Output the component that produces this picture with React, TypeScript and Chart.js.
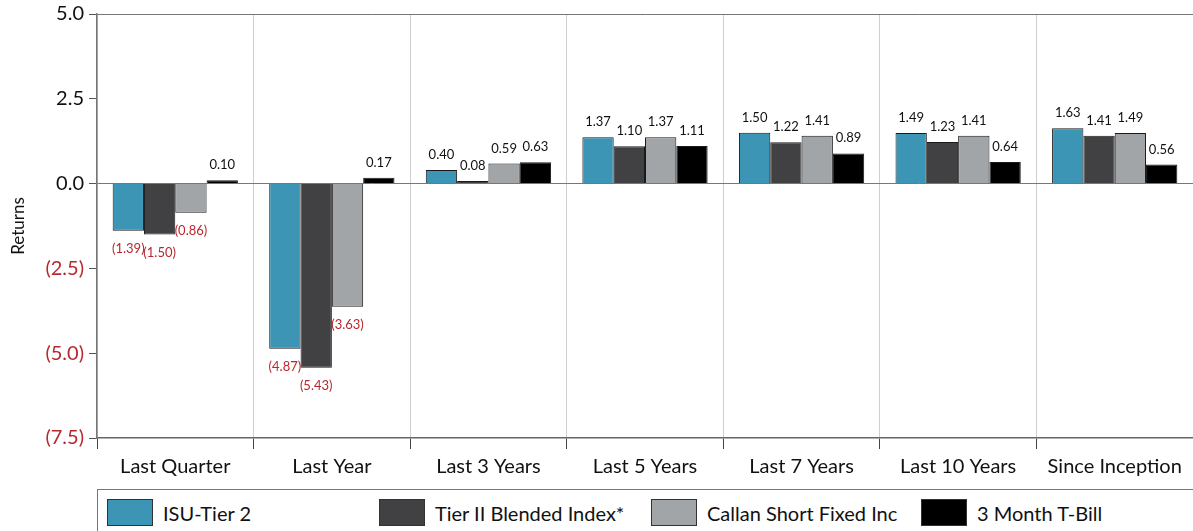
import React, { useEffect, useRef } from "react";
import { Chart, registerables } from "chart.js";

Chart.register(...registerables);

const categories = ["Last Quarter", "Last Year", "Last 3 Years", "Last 5 Years", "Last 7 Years", "Last 10 Years", "Since Inception"];
const isuTier2 = [-1.39, -4.87, 0.40, 1.37, 1.50, 1.49, 1.63];
const tierIIBlended = [-1.50, -5.43, 0.08, 1.10, 1.22, 1.23, 1.41];
const callanShortFixed = [-0.86, -3.63, 0.59, 1.37, 1.41, 1.41, 1.49];
const tBill3Month = [0.10, 0.17, 0.63, 1.11, 0.89, 0.64, 0.56];
const seriesNames = ["ISU-Tier 2", "Tier II Blended Index*", "Callan Short Fixed Inc", "3 Month T-Bill"];
const seriesColors = ["#3d95b6", "#414042", "#a2a5a8", "#000000"];
const yTicks = [-7.5, -5.0, -2.5, 0.0, 2.5, 5.0];

const FONT = "Lato, 'Open Sans', sans-serif";
const RED = "#b8282e";

const fmt = (v: number) => (v < 0 ? `(${Math.abs(v).toFixed(2)})` : v.toFixed(2));
const fmtTick = (v: number) => (v < 0 ? `(${Math.abs(v).toFixed(1)})` : v.toFixed(1));

const labelPlugin = {
  id: "barLabels",
  afterDatasetsDraw(chart: any) {
    const ctx = chart.ctx;
    ctx.save();
    ctx.font = `13px ${FONT}`;
    ctx.textAlign = "center";
    chart.data.datasets.forEach((ds: any, i: number) => {
      const meta = chart.getDatasetMeta(i);
      meta.data.forEach((bar: any, j: number) => {
        const v = ds.data[j] as number;
        if (v >= 0) {
          ctx.fillStyle = "#111";
          ctx.textBaseline = "alphabetic";
          ctx.fillText(fmt(v), bar.x, bar.y - 11);
        } else {
          ctx.fillStyle = RED;
          ctx.textBaseline = "top";
          ctx.fillText(fmt(v), bar.x, bar.y + 12);
        }
      });
    });
    ctx.restore();
  },
};

export default function App() {
  const ref = useRef<HTMLCanvasElement | null>(null);
  useEffect(() => {
    if (!ref.current) return;
    const data = [isuTier2, tierIIBlended, callanShortFixed, tBill3Month];
    const chart = new Chart(ref.current, {
      type: "bar",
      data: {
        labels: categories,
        datasets: data.map((d, i) => ({
          label: seriesNames[i],
          data: d,
          backgroundColor: seriesColors[i],
          borderColor: "#1a1a1a",
          borderWidth: 1,
          categoryPercentage: 0.8,
          barPercentage: 1.0,
        })),
      },
      options: {
        animation: false,
        responsive: false,
        maintainAspectRatio: false,
        layout: { padding: { top: 14, right: 0, left: 0, bottom: 0 } },
        plugins: { legend: { display: false }, tooltip: { enabled: false } },
        scales: {
          x: {
            afterFit: (s: any) => { s.height = 49; s.paddingLeft = 0; s.paddingRight = 0; },
            grid: {
              offset: true,
              color: "#cfcfcf",
              tickColor: "#444",
              tickLength: 11,
              lineWidth: 1,
            },
            border: { color: "#666", width: 1.5 },
            ticks: { color: "#111", font: { family: FONT, size: 20 }, padding: 6 },
          },
          y: {
            min: -7.5,
            max: 5,
            afterFit: (s: any) => { s.width = 97; s.paddingTop = 0; s.paddingBottom = 0; },
            afterBuildTicks: (s: any) => { s.ticks = yTicks.map((v) => ({ value: v })); },
            grid: {
              drawOnChartArea: true,
              color: (c: any) => (c.tick && (c.tick.value === 0 || c.tick.value === 5) ? "#777" : "rgba(0,0,0,0)"),
              tickColor: "#555",
              tickLength: 8,
              lineWidth: 1,
            },
            border: { color: "#777", width: 1.5 },
            ticks: {
              font: { family: FONT, size: 20 },
              color: (c: any) => (c.tick && c.tick.value < 0 ? RED : "#111"),
              padding: 5,
              callback: (v: any) => fmtTick(Number(v)),
            },
            title: { display: true, text: "Returns", font: { family: FONT, size: 17 }, color: "#111", padding: { top: 8, bottom: 0 } },
          },
        },
      },
      plugins: [labelPlugin],
    });
    return () => chart.destroy();
  }, []);

  const legendLeft = [107, 379, 651, 921];
  return (
    <div style={{ position: "fixed", left: 0, top: 0, width: 1193, height: 531, background: "#fff", overflow: "hidden" }}>
      <canvas ref={ref} width={1193} height={487} style={{ display: "block", width: 1193, height: 487 }} />
      <div style={{ position: "absolute", left: 97, top: 489, width: 1110, height: 50, border: "1.5px solid #777", boxSizing: "border-box" }} />
      {seriesNames.map((n, i) => (
        <div key={n} style={{ position: "absolute", left: legendLeft[i], top: 499, height: 27, display: "flex", alignItems: "center", fontFamily: FONT, fontSize: 20, color: "#111", whiteSpace: "nowrap" }}>
          <div style={{ width: 46, height: 27, background: seriesColors[i], border: "1px solid #333", boxSizing: "border-box", marginRight: 10 }} />
          <span>{n}</span>
        </div>
      ))}
    </div>
  );
}
